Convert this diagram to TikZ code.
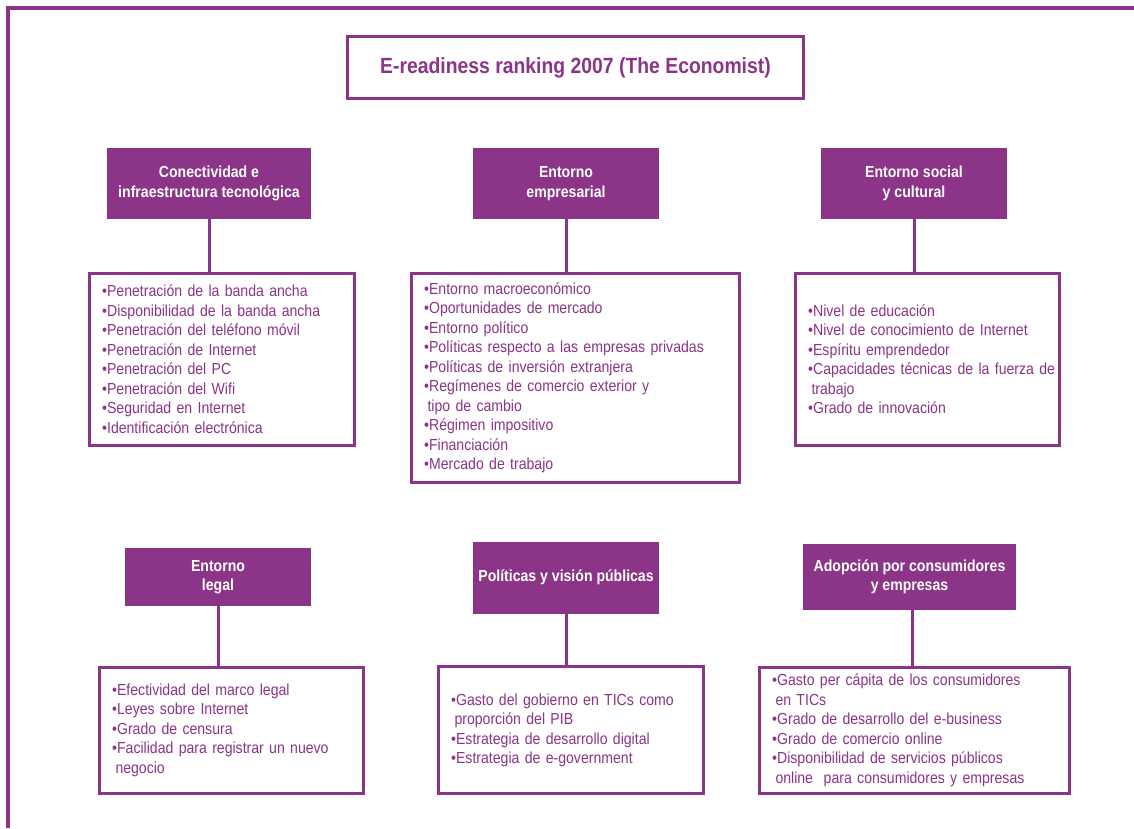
\documentclass[tikz,border=0pt]{standalone}
\usepackage{fontspec}
\setmainfont{Liberation Sans}[FakeStretch=0.88]
\usetikzlibrary{positioning}
\definecolor{ecpurple}{RGB}{140,52,135}

\begin{document}
\begin{tikzpicture}[x=0.75pt,y=-0.75pt,
  heading/.style={fill=ecpurple,text=white,align=center,font=\fontsize{12}{14.6}\selectfont\bfseries},
  itembox/.style={draw=ecpurple,line width=2.25pt,fill=white,text=ecpurple,align=left,inner xsep=9.5pt,font=\fontsize{12}{14.6}\selectfont},
  link/.style={draw=ecpurple,line width=2.25pt}]
  \useasboundingbox (0,0) rectangle (1134,828);
  \draw[link,line width=3pt] (8,828) -- (8,8) -- (1134,8);

  \node[itembox,align=center,minimum width=342pt,minimum height=46.5pt,font=\fontsize{16.5}{20}\selectfont\bfseries] (title) at (575.5,67.5) {E-readiness ranking 2007 (The Economist)};

  % categorias
  \node[heading,minimum width=153pt,minimum height=53.25pt] (conect) at (209,183.5) {Conectividad e\\infraestructura tecnológica};
  \node[heading,minimum width=139.5pt,minimum height=53.25pt] (empres) at (566,183.5) {Entorno\\empresarial};
  \node[heading,minimum width=139.5pt,minimum height=53.25pt] (social) at (914,183.5) {Entorno social\\y cultural};
  \node[heading,minimum width=139.5pt,minimum height=43.5pt] (legal) at (218,577) {Entorno\\legal};
  \node[heading,minimum width=139.5pt,minimum height=54pt] (public) at (566,577.5) {Políticas y visión públicas};
  \node[heading,minimum width=159.75pt,minimum height=49.5pt] (adopc) at (909.5,577) {Adopción por consumidores\\y empresas};
  \coordinate (adopcfoot) at ([xshift=2.6pt]adopc.south);

  % indicadores
  \node[itembox,text width=179.75pt,minimum height=129pt] (conectlist) [below=39.375pt of conect,xshift=9.75pt]
    {•Penetración de la banda ancha\\•Disponibilidad de la banda ancha\\•Penetración del teléfono móvil\\•Penetración de Internet\\•Penetración del PC\\•Penetración del Wifi\\•Seguridad en Internet\\•Identificación electrónica};
  \node[itembox,text width=227pt,minimum height=156.75pt] (empreslist) [below=39.375pt of empres,xshift=7.125pt]
    {•Entorno macroeconómico\\•Oportunidades de mercado\\•Entorno político\\•Políticas respecto a las empresas privadas\\•Políticas de inversión extranjera\\•Regímenes de comercio exterior y\\\hspace*{2.5pt}tipo de cambio\\•Régimen impositivo\\•Financiación\\•Mercado de trabajo};
  \node[itembox,text width=179pt,minimum height=129pt] (sociallist) [below=39.375pt of social,xshift=10.125pt]
    {•Nivel de educación\\•Nivel de conocimiento de Internet\\•Espíritu emprendedor\\\mbox{•Capacidades técnicas de la fuerza de}\\\hspace*{2.5pt}trabajo\\•Grado de innovación};
  \node[itembox,text width=179pt,minimum height=94.5pt] (legallist) [below=44.625pt of legal,xshift=10.125pt]
    {•Efectividad del marco legal\\•Leyes sobre Internet\\•Grado de censura\\•Facilidad para registrar un nuevo\\\hspace*{2.5pt}negocio};
  \node[itembox,text width=179.75pt,minimum height=95.25pt] (publiclist) [below=38.625pt of public,xshift=3.75pt]
    {•Gasto del gobierno en TICs como\\\hspace*{2.5pt}proporción del PIB\\•Estrategia de desarrollo digital\\•Estrategia de e-government};
  \node[itembox,text width=213.5pt,minimum height=94.5pt] (adopclist) [below=41.625pt of adopc,xshift=3.75pt]
    {•Gasto per cápita de los consumidores\\\hspace*{2.5pt}en TICs\\•Grado de desarrollo del e-business\\•Grado de comercio online\\•Disponibilidad de servicios públicos\\\mbox{\hspace*{2.5pt}online\ \ para consumidores y empresas}};

  \path[link]
    (conect) edge (conect |- conectlist.north)
    (empres) edge (empres |- empreslist.north)
    (social) edge (social |- sociallist.north)
    (legal) edge (legal |- legallist.north)
    (public) edge (public |- publiclist.north)
    (adopcfoot) edge (adopcfoot |- adopclist.north);
\end{tikzpicture}
\end{document}
